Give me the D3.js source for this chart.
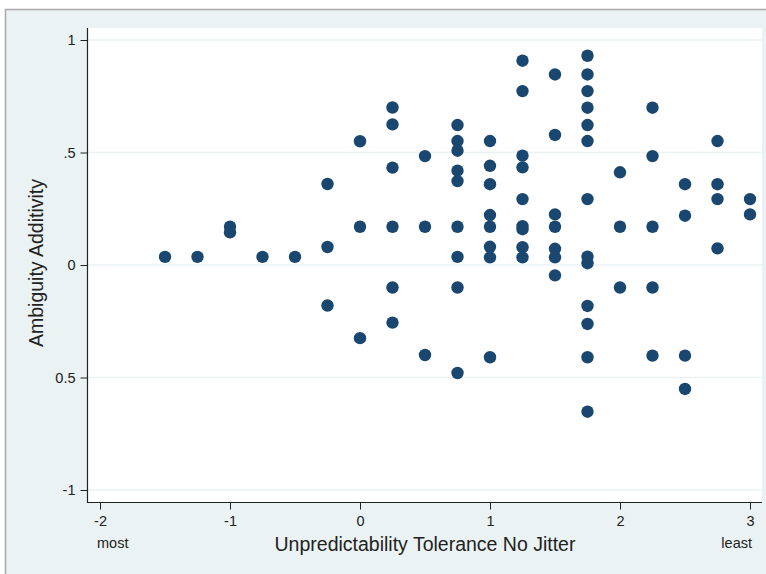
<!DOCTYPE html>
<html><head><meta charset="utf-8">
<script src="https://cdn.jsdelivr.net/npm/d3@7"></script>
<style>body{margin:0;background:#fff}svg{display:block}text{font-family:"Liberation Sans",Arial,sans-serif}</style>
</head><body><svg id="c" width="766" height="574"></svg>
<script>
const xGroups = [-1.5,-1.25,-1,-0.75,-0.5,-0.25,0,0.25,0.5,0.75,1,1.25,1.5,1.75,2,2.25,2.5,2.75,3];
const yByGroup = [
  [0.036],
  [0.036],
  [0.17,0.145],
  [0.036],
  [0.036],
  [0.36,0.08,-0.18],
  [0.55,0.17,-0.325],
  [0.70,0.625,0.433,0.17,-0.10,-0.256],
  [0.484,0.17,-0.40],
  [0.622,0.551,0.508,0.419,0.373,0.17,0.036,-0.10,-0.48],
  [0.551,0.441,0.359,0.222,0.17,0.081,0.034,-0.41],
  [0.908,0.773,0.486,0.434,0.293,0.173,0.159,0.079,0.034],
  [0.847,0.578,0.225,0.17,0.072,0.034,-0.046],
  [0.93,0.847,0.773,0.699,0.622,0.551,0.293,0.037,0.008,-0.182,-0.262,-0.41,-0.652],
  [0.412,0.17,-0.10],
  [0.699,0.484,0.17,-0.10,-0.403],
  [0.359,0.219,-0.403,-0.551],
  [0.551,0.359,0.293,0.074],
  [0.293,0.225]
];
const yTicks = [-1,-0.5,0,0.5,1];
const yTickLabels = ["-1","0.5","0",".5","1"];
const xTicks = [-2,-1,0,1,2,3];
const xTickLabels = ["-2","-1","0","1","2","3"];
const xTitle = "Unpredictability Tolerance No Jitter";
const yTitle = "Ambiguity Additivity";

const pts = [];
xGroups.forEach((gx,i)=>yByGroup[i].forEach(v=>pts.push({x:gx,y:v})));

const svg = d3.select("#c");
const bg = "#eaf2f3";
svg.append("rect").attr("x",5.5).attr("y",9.5).attr("width",770).attr("height",570)
  .attr("fill",bg).attr("stroke","#a9a9a9").attr("stroke-width",1.5);

const L=88,R=762,T=28,B=502;
svg.append("rect").attr("x",L).attr("y",T).attr("width",R-L).attr("height",B-T).attr("fill","#fff");

const x = d3.scaleLinear().domain([-2,3]).range([100,750]);
const y = d3.scaleLinear().domain([-1,1]).range([490,40]);

svg.append("g").selectAll("line").data(yTicks).join("line")
  .attr("x1",L).attr("x2",R).attr("y1",d=>y(d)).attr("y2",d=>y(d))
  .attr("stroke",bg).attr("stroke-width",1.5);

svg.append("g").selectAll("circle").data(pts).join("circle")
  .attr("cx",d=>x(d.x)).attr("cy",d=>y(d.y)).attr("r",6.2)
  .attr("fill","#1a476f");

const yAxis = d3.axisLeft(y).tickValues(yTicks).tickSize(7).tickPadding(5)
  .tickFormat((d,i)=>yTickLabels[i]);
const gy = svg.append("g").attr("transform",`translate(${L-0.5},0)`).call(yAxis);
gy.select(".domain").remove();
gy.selectAll("text").attr("font-size",14.5).attr("fill","#222").style("font-family","Liberation Sans, Arial, sans-serif");
gy.selectAll("line").attr("stroke","#222");

const xAxis = d3.axisBottom(x).tickValues(xTicks).tickSize(7).tickPadding(6)
  .tickFormat((d,i)=>xTickLabels[i]);
const gx = svg.append("g").attr("transform",`translate(0,${B+0.5})`).call(xAxis);
gx.select(".domain").remove();
gx.selectAll("text").attr("font-size",14.5).attr("fill","#222").style("font-family","Liberation Sans, Arial, sans-serif");
gx.selectAll("line").attr("stroke","#222");

svg.append("line").attr("x1",L-0.5).attr("x2",L-0.5).attr("y1",T).attr("y2",B+1).attr("stroke","#222").attr("stroke-width",1.2);
svg.append("line").attr("x1",L-1).attr("x2",R).attr("y1",B+0.5).attr("y2",B+0.5).attr("stroke","#222").attr("stroke-width",1.2);

svg.append("text").attr("x",x(-2)-3).attr("y",548).attr("font-size",14.5).attr("fill","#222").text("most");
svg.append("text").attr("x",x(3)+2).attr("y",548).attr("text-anchor","end").attr("font-size",14.5).attr("fill","#222").text("least");
svg.append("text").attr("x",425).attr("y",551).attr("text-anchor","middle").attr("font-size",19.5).attr("fill","#222").text(xTitle);
svg.append("text").attr("transform","translate(43,263) rotate(-90)").attr("text-anchor","middle").attr("font-size",19.5).attr("fill","#222").text(yTitle);
</script></body></html>
